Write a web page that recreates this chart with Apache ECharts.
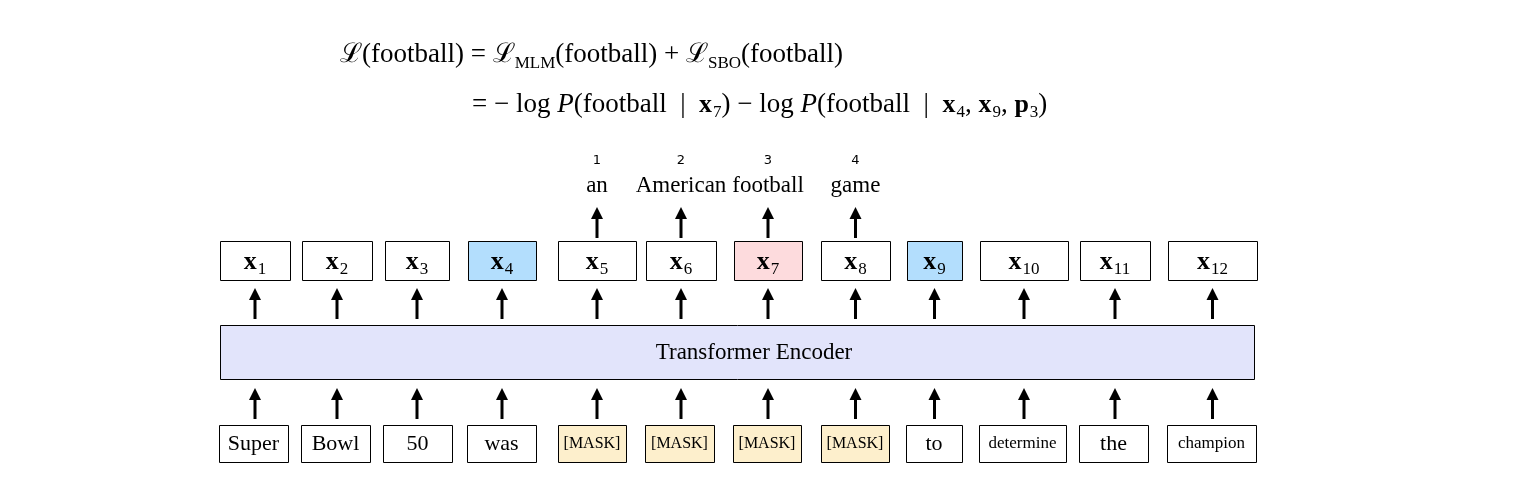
<!DOCTYPE html>
<html><head><meta charset="utf-8">
<script src="https://cdn.jsdelivr.net/npm/echarts@6/dist/echarts.min.js"></script>
<style>html,body{margin:0;padding:0;background:#fff}#c{width:1540px;height:493px}</style>
</head><body><div id="c"></div>
<script>
const inputTokens = ['Super','Bowl','50','was','[MASK]','[MASK]','[MASK]','[MASK]','to','determine','the','champion'];
const inputLeft  = [219,301,383,467,558,645,733,821,906,979,1079,1167];
const inputRight = [288,370,452,536,626,714,801,889,962,1066,1148,1256];
const outputLeft  = [220,302,385,468,558,646,734,821,907,980,1080,1168];
const outputRight = [290,372,449,536,636,716,802,890,962,1068,1150,1257];
const outputIdx = ['1','2','3','4','5','6','7','8','9','10','11','12'];
const outputKind = ['n','n','n','ctx','n','n','tgt','n','ctx','n','n','n'];
const predWords = ['an','American','football','game'];
const predPos = ['1','2','3','4'];
const predStart = 4;

const SERIF = 'Liberation Serif';
const fills = {n:'#ffffff', ctx:'#b3defd', tgt:'#fddbdd', mask:'#fdefcc'};
const centers = outputLeft.map((l,i)=>(l+outputRight[i])/2);

const boxes = [];
inputTokens.forEach((t,i)=>boxes.push([inputLeft[i],425,inputRight[i],462,t==='[MASK]'?'mask':'n']));
outputLeft.forEach((l,i)=>boxes.push([l,241,outputRight[i],280,outputKind[i]]));
boxes.push([220,325,1254,379,'enc']);

const arrows = [];
centers.forEach(c=>{arrows.push([c,419,388]);arrows.push([c,319,288]);});
predWords.forEach((w,k)=>arrows.push([centers[predStart+k],238,207]));

const texts = [];
inputTokens.forEach((t,i)=>texts.push([(inputLeft[i]+inputRight[i])/2,444,t==='[MASK]'?'{s|'+t+'}':(t.length>6?'{t|'+t+'}':'{m|'+t+'}')]));
outputIdx.forEach((n,i)=>texts.push([centers[i],262,'{x|x}{sub|'+n+'}']));
predWords.forEach((w,k)=>{texts.push([centers[predStart+k],186,'{w|'+w+'}']);texts.push([centers[predStart+k],161,'{n|'+predPos[k]+'}']);});
texts.push([754,353,'{w|Transformer Encoder}']);

const eqL = [
 [340,55,'{e|ℒ(football) = ℒ}{sub2|MLM}{e|(football) + ℒ}{sub2|SBO}{e|(football)}'],
 [472,105,'{e|= − log }{ei|P}{e|(football  |  }{x|x}{sub|7}{e|) − log }{ei|P}{e|(football  |  }{x|x}{sub|4}{e|, }{x|x}{sub|9}{e|, }{x|p}{sub|3}{e|)}']
];

const rich = {
  m:{fontFamily:SERIF,fontSize:22,color:'#000'},
  w:{fontFamily:SERIF,fontSize:23,color:'#000'},
  s:{fontFamily:SERIF,fontSize:16,color:'#000'},
  t:{fontFamily:SERIF,fontSize:17,color:'#000'},
  n:{fontFamily:'DejaVu Sans',fontSize:13,color:'#000'},
  x:{fontFamily:SERIF,fontSize:26,fontWeight:'bold',color:'#000',height:26,verticalAlign:'bottom'},
  sub:{fontFamily:SERIF,fontSize:17,color:'#000',height:16,verticalAlign:'bottom',padding:[0,0,-3,1]},
  sub2:{fontFamily:SERIF,fontSize:17,color:'#000',height:16,verticalAlign:'bottom',padding:[0,0,-4,0]},
  e:{fontFamily:SERIF,fontSize:27,color:'#000',height:26,verticalAlign:'bottom'},
  ei:{fontFamily:SERIF,fontSize:27,fontStyle:'italic',color:'#000',height:26,verticalAlign:'bottom'}
};

const chart = echarts.init(document.getElementById('c'));
chart.setOption({
  animation:false,
  grid:{left:0,right:0,top:0,bottom:0},
  xAxis:{type:'value',min:0,max:1540,show:false},
  yAxis:{type:'value',min:0,max:493,inverse:true,show:false},
  series:[
    {type:'custom',data:boxes,renderItem:(p,api)=>{
      const a=api.coord([api.value(0),api.value(1)]),b=api.coord([api.value(2),api.value(3)]);
      const k=boxes[p.dataIndex][4];
      return {type:'rect',shape:{x:a[0]+0.5,y:a[1]+0.5,width:b[0]-a[0],height:b[1]-a[1]},
        style:{fill:k==='enc'?'#e2e4fb':fills[k],stroke:'#000',lineWidth:1}};
    }},
    {type:'custom',data:arrows,renderItem:(p,api)=>{
      const a=api.coord([api.value(0),api.value(1)]),b=api.coord([api.value(0),api.value(2)]);
      return {type:'group',children:[
        {type:'line',shape:{x1:a[0],y1:a[1],x2:b[0],y2:b[1]+10},style:{stroke:'#000',lineWidth:3}},
        {type:'polygon',shape:{points:[[b[0]-6,b[1]+12],[b[0]+6,b[1]+12],[b[0],b[1]]]},style:{fill:'#000'}}
      ]};
    }},
    {type:'custom',data:texts.map(t=>[t[0],t[1]]),renderItem:(p,api)=>{
      const a=api.coord([api.value(0),api.value(1)]);
      return {type:'text',x:a[0],y:a[1],style:{text:texts[p.dataIndex][2],rich:rich,align:'center',verticalAlign:'middle'}};
    }},
    {type:'custom',data:eqL.map(t=>[t[0],t[1]]),renderItem:(p,api)=>{
      const a=api.coord([api.value(0),api.value(1)]);
      return {type:'text',x:a[0],y:a[1],style:{text:eqL[p.dataIndex][2],rich:rich,align:'left',verticalAlign:'middle'}};
    }}
  ]
});
</script></body></html>
